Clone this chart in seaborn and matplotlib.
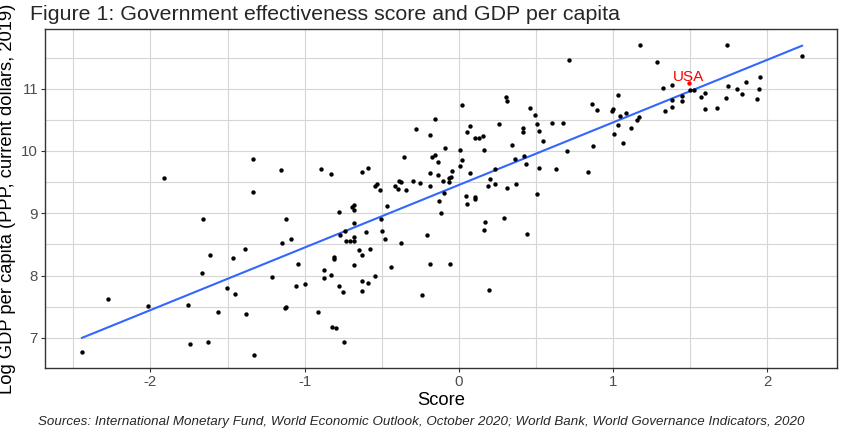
import numpy as np
import pandas as pd
import matplotlib
matplotlib.use("Agg")
import matplotlib.pyplot as plt
import seaborn as sns
from matplotlib.ticker import MultipleLocator

# government effectiveness score (x) and log GDP per capita (y)
score = [
    -2.446, -2.276, -1.914, -2.018, -1.337, -1.156, -1.337, -1.658, -1.120, -1.616,
    -1.467, -1.387, -1.148, -1.089, -1.046, -1.668, -1.210, -1.059, -1.506, -1.454,
    -1.759, -1.564, -1.379, -1.130, -1.124, -1.744, -1.625, -1.327, -0.998, -0.897,
    -0.828, -0.916, -0.821, -0.797, -0.747, -0.877, -0.877, -0.828, -0.776, -0.754,
    -0.808, -0.808, -0.778, -0.770, -0.739, -0.735, -0.707, -0.679, -0.679, -0.696,
    -0.679, -0.679, -0.679, -0.648, -0.627, -0.679, -0.627, -0.627, -0.588, -0.545,
    -0.575, -0.605, -0.627, -0.588, -0.545, -0.530, -0.514, -0.508, -0.499, -0.478,
    -0.469, -0.439, -0.417, -0.397, -0.387, -0.374, -0.357, -0.346, -0.376, -0.296,
    -0.255, -0.238, -0.209, -0.188, -0.188, -0.186, -0.177, -0.156, -0.136, -0.136,
    -0.106, -0.128, -0.119, -0.099, -0.089, -0.067, -0.063, -0.054, -0.045, -0.058,
    0.006, 0.006, 0.021, 0.073, 0.043, 0.052, 0.102, 0.102, -0.156, -0.279,
    -0.188, 0.021, 0.303, 0.313, 0.462, 0.493, 0.504, 0.521, 0.543, 0.261,
    0.073, 0.052, 0.102, 0.128, 0.154, 0.164, 0.231, 0.201, 0.186, 0.231,
    0.311, 0.371, 0.363, 0.342, 0.415, 0.415, 0.423, 0.434, 0.521, 0.504,
    0.603, 0.672, 0.698, 0.631, 0.834, 0.871, 0.862, 0.893, 0.992, 1.000,
    1.033, 1.042, 1.033, 1.003, 1.063, 1.085, 1.115, 1.152, 1.169, 0.171,
    0.162, 0.292, 0.443, 0.194, 1.175, 1.736, 1.282, 2.226, 1.496, 1.525,
    1.324, 1.383, 1.334, 1.383, 1.383, 1.444, 1.444, 1.571, 1.595, 1.595,
    1.675, 1.733, 1.742, 1.802, 1.833, 1.861, 1.934, 1.945, 1.951, 0.715,
]
log_gdp = [
    6.769, 7.629, 9.567, 7.507, 9.872, 9.700, 9.342, 8.904, 8.909, 8.331,
    8.287, 8.432, 8.528, 8.592, 8.186, 8.042, 7.982, 7.833, 7.801, 7.705,
    7.528, 7.421, 7.388, 7.475, 7.496, 6.902, 6.934, 6.721, 7.865, 9.706,
    9.631, 7.416, 7.175, 7.154, 6.929, 8.090, 7.962, 8.010, 7.833, 7.737,
    8.303, 8.267, 9.021, 8.647, 8.721, 8.560, 8.560, 8.560, 8.615, 9.106,
    9.128, 9.048, 8.840, 8.406, 8.326, 8.170, 7.913, 7.758, 7.881, 7.989,
    8.432, 8.700, 9.663, 9.727, 9.438, 9.475, 9.379, 8.913, 8.711, 8.583,
    9.122, 8.138, 9.433, 9.385, 9.523, 9.507, 9.899, 9.374, 8.518, 9.514,
    9.482, 7.684, 8.647, 9.438, 9.642, 8.181, 9.909, 9.936, 9.828, 9.620,
    9.523, 9.197, 9.010, 9.326, 10.043, 9.502, 9.567, 9.587, 9.674, 8.181,
    10.021, 9.759, 9.851, 9.642, 9.273, 9.144, 9.257, 9.234, 10.509, 10.348,
    10.252, 10.743, 10.862, 10.803, 10.695, 10.583, 10.433, 10.326, 10.161, 10.429,
    10.406, 10.300, 10.209, 10.209, 10.241, 10.016, 9.706, 9.555, 9.438, 9.470,
    9.401, 9.470, 9.867, 10.096, 10.364, 10.310, 9.925, 9.796, 9.727, 9.315,
    10.445, 10.445, 10.000, 9.706, 9.663, 10.075, 10.759, 10.658, 10.647, 10.669,
    10.904, 10.562, 10.422, 10.278, 10.133, 10.615, 10.369, 10.498, 10.551, 8.860,
    8.732, 8.925, 8.673, 7.774, 11.706, 11.697, 11.429, 11.525, 10.979, 10.979,
    11.016, 11.059, 10.637, 10.711, 10.814, 10.878, 10.798, 10.867, 10.931, 10.679,
    10.690, 10.846, 11.039, 10.995, 10.920, 11.103, 10.835, 10.995, 11.188, 11.461,
]
usa_score = 1.491
usa_gdp = 11.087

x_ticks = [-2, -1, 0, 1, 2]
y_ticks = [7, 8, 9, 10, 11]

df = pd.DataFrame({"Score": score + [usa_score], "LogGDP": log_gdp + [usa_gdp]})
usa = pd.DataFrame({"Score": [usa_score], "LogGDP": [usa_gdp]})

sns.set_theme(style="white")
plt.rcParams['font.family'] = ['Liberation Sans', 'DejaVu Sans']
plt.rcParams['axes.unicode_minus'] = False

fig = plt.figure(figsize=(8.43, 4.33), dpi=100)
ax = fig.add_axes([45 / 843, 65 / 433, 792 / 843, 339 / 433])

# fitted line first, then the dots
sns.regplot(data=df, x="Score", y="LogGDP", scatter=False, ci=None, ax=ax,
            line_kws={"color": "#3366FF", "lw": 1.5})
sns.scatterplot(data=df.iloc[:-1], x="Score", y="LogGDP", color="black", s=10,
                linewidth=0, ax=ax, zorder=3)
sns.scatterplot(data=usa, x="Score", y="LogGDP", color="red", s=10,
                linewidth=0, ax=ax, zorder=4)
ax.text(usa_score, usa_gdp + 0.1, "USA", color="red", fontsize=11,
        ha="center", va="center", zorder=5)

ax.set_xlim(-2.684, 2.451)
ax.set_ylim(6.517, 11.958)
ax.set_xticks(x_ticks)
ax.set_yticks(y_ticks)
ax.xaxis.set_minor_locator(MultipleLocator(0.5))
ax.yaxis.set_minor_locator(MultipleLocator(0.5))
ax.set_axisbelow(True)
ax.grid(which="major", color="#d6d6d6", lw=0.8)
ax.grid(which="minor", color="#d6d6d6", lw=0.8)
for sp in ax.spines.values():
    sp.set_color("#333333")
    sp.set_linewidth(1.0)
ax.tick_params(which="major", length=3, width=0.8, color="#333333",
               labelcolor="#4d4d4d", labelsize=10.8, bottom=True, left=True, pad=2)
ax.tick_params(which="minor", length=0)

ax.set_xlabel("Score", fontsize=13.2, color="black", labelpad=2)
ax.set_ylabel("Log GDP per capita (PPP, current dollars, 2019)", fontsize=13.2,
              color="black", labelpad=4)

fig.text(30 / 843, 1 - 15 / 433, "Figure 1: Government effectiveness score and GDP per capita",
         fontsize=15.4, va="center", ha="left")
fig.text(0.5, 1 - 422 / 433,
         "Sources: International Monetary Fund, World Economic Outlook, October 2020; "
         "World Bank, World Governance Indicators, 2020",
         fontsize=9.6, style="italic", ha="center", va="center")

fig.savefig("out.png", dpi=100)
